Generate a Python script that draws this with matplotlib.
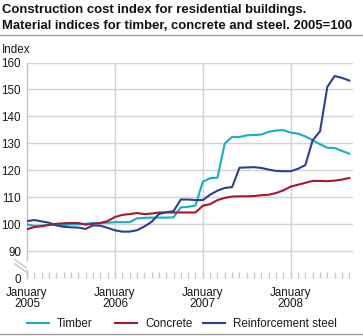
import matplotlib
matplotlib.use("Agg")
import matplotlib.pyplot as plt
from matplotlib.lines import Line2D

plt.rcParams['font.family'] = ['Liberation Sans', 'DejaVu Sans']

# Monthly index values, January 2005 to September 2008 (2005=100)
months = list(range(45))
timber = [100.0, 99.4, 99.5, 99.8, 100.0, 99.7, 100.0, 100.0, 100.2, 100.5, 100.5, 100.6,
          100.8, 100.8, 100.8, 102.2, 102.4, 102.5, 102.5, 102.5, 102.6, 106.3, 106.5, 107.0,
          115.8, 117.1, 117.3, 130.0, 132.4, 132.4, 133.0, 133.1, 133.3, 134.3, 134.8, 134.9,
          134.0, 133.6, 132.6, 131.2, 129.7, 128.4, 128.3, 127.2, 126.2]
concrete = [98.2, 99.0, 99.3, 99.8, 100.2, 100.4, 100.5, 100.5, 99.9, 100.2, 100.5, 101.2,
            102.7, 103.5, 103.8, 104.2, 103.8, 104.0, 104.4, 104.4, 104.4, 104.4, 104.4, 104.4,
            106.9, 107.5, 109.0, 109.8, 110.3, 110.4, 110.4, 110.5, 110.8, 111.0, 111.6, 112.6,
            114.0, 114.7, 115.4, 116.1, 116.1, 116.0, 116.2, 116.6, 117.2]
steel = [101.2, 101.6, 101.1, 100.6, 99.6, 99.1, 98.9, 98.8, 98.3, 99.6, 99.5, 98.7,
         97.8, 97.3, 97.3, 97.8, 99.2, 100.9, 103.8, 104.5, 104.9, 109.2, 109.2, 109.0,
         109.0, 111.0, 112.5, 113.5, 113.8, 121.0, 121.1, 121.2, 120.9, 120.3, 119.8, 119.7,
         119.7, 120.6, 122.0, 131.2, 134.5, 151.0, 155.0, 154.3, 153.3]

series_names = ["Timber", "Concrete", "Reinforcement steel"]
colors = ["#14afc0", "#a8182c", "#2b3f98"]

x_ticks = [0, 12, 24, 36]
x_labels = ["January\n2005", "January\n2006", "January\n2007", "January\n2008"]
y_ticks = [80, 90, 100, 110, 120, 130, 140, 150, 160]
y_labels = ["0", "90", "100", "110", "120", "130", "140", "150", "160"]

W, H = 363, 336
fig = plt.figure(figsize=(W / 100, H / 100), dpi=100)


def fx(px):
    return px / W


def fy(py):
    return 1 - py / H


FS = 8.4
TITLE_FS = 9.45
txt_c = "#1a1a1a"

# plot area in pixels
left, right, top, bottom = 27, 353, 62.5, 278.3
ax = fig.add_axes([fx(left), fy(bottom), (right - left) / W, (bottom - top) / H])

grid_c = "#d2d2da"
axis_c = "#c4c4c8"

for yv in y_ticks[1:]:
    ax.axhline(yv, color=grid_c, lw=1.0, zorder=1)
for xv in x_ticks[1:]:
    ax.axvline(xv, color=grid_c, lw=1.0, zorder=1)

for vals, c, name in zip([timber, concrete, steel], colors, series_names):
    ax.plot(months, vals, color=c, lw=1.5, label=name, zorder=3, solid_joinstyle='round')

ax.set_xlim(0, 44.5)
ax.set_ylim(80, 160)
for s in ax.spines.values():
    s.set_visible(False)

# axis lines, with a break between 0 and 90
ax.plot([0, 0], [160, 86.7], color=axis_c, lw=1.0, zorder=2, clip_on=False)
ax.plot([0, 0], [83.0, 80], color=axis_c, lw=1.0, zorder=2, clip_on=False)
ax.axhline(80, color=axis_c, lw=1.0, zorder=2)
for y0 in (86.9, 85.3):
    ax.plot([-1.65, -0.1], [y0, y0 - 3.0], color=axis_c, lw=1.0,
            zorder=2, clip_on=False)

ax.set_yticks(y_ticks)
ax.set_yticklabels(y_labels)
ax.tick_params(axis='y', length=0, pad=4.3, labelsize=FS, labelcolor=txt_c)
ax.set_xticks(x_ticks)
ax.set_xticklabels(x_labels, linespacing=0.92)
ax.set_xticks(months, minor=True)
ax.tick_params(axis='x', which='both', direction='in', length=4, width=0.9,
               color=axis_c, pad=6.3, labelsize=FS, labelcolor=txt_c)

# title, header rule and unit label
fig.text(fx(2.5), fy(13.3), "Construction cost index for residential buildings.",
         ha='left', va='baseline', fontsize=TITLE_FS, fontweight='bold', color="#111111")
fig.text(fx(2.5), fy(29.3), "Material indices for timber, concrete and steel. 2005=100",
         ha='left', va='baseline', fontsize=TITLE_FS, fontweight='bold', color="#111111")
fig.add_artist(Line2D([0, 1], [fy(35), fy(35)], color="#999999", lw=1.0))
fig.text(fx(2), fy(52.7), "Index", ha='left', va='baseline', fontsize=FS, color=txt_c)

# legend row
legend_x = [27, 115, 203]
for lx, c, name in zip(legend_x, colors, series_names):
    fig.add_artist(Line2D([fx(lx), fx(lx + 22)], [fy(322.5), fy(322.5)], color=c, lw=1.5))
    fig.text(fx(lx + 30), fy(326.8), name, ha='left', va='baseline', fontsize=FS, color=txt_c)
fig.add_artist(Line2D([0, 1], [fy(334), fy(334)], color="#999999", lw=1.0))

fig.savefig("out.png", dpi=100)
